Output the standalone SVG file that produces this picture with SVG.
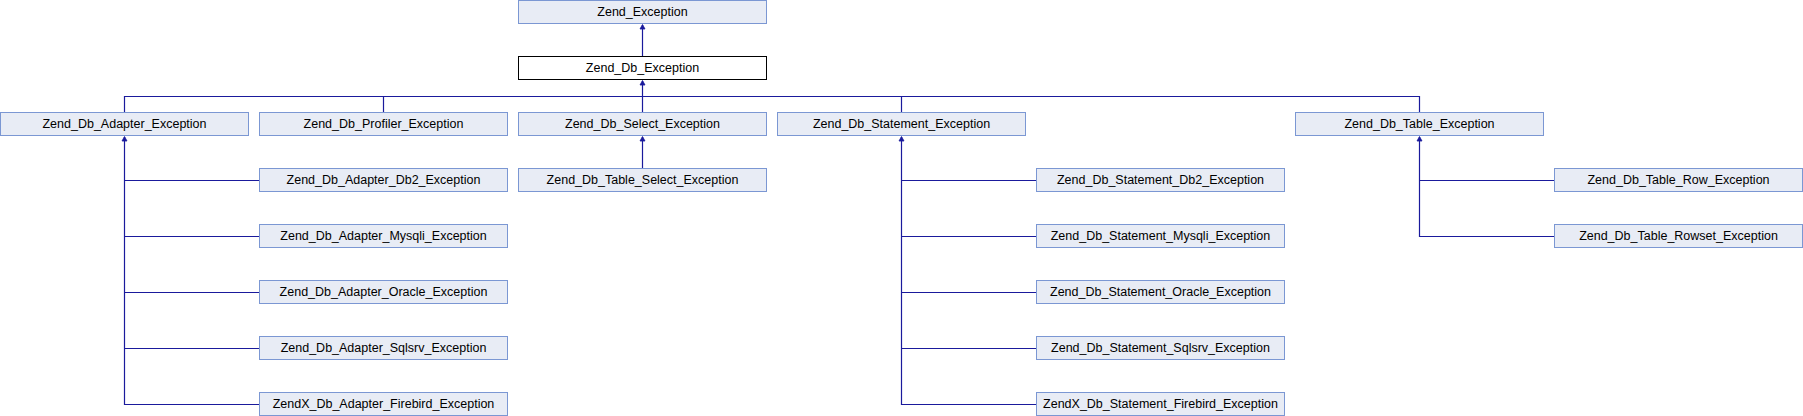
<svg xmlns="http://www.w3.org/2000/svg" width="1803" height="416" viewBox="0 0 1803 416">
<defs>
<style>
.n rect{fill:#e8ecf5;stroke:#7b97d3;stroke-width:1}
.n.cur rect{fill:#ffffff;stroke:#000000}
.n text{font-family:"Liberation Sans",Arial,sans-serif;font-size:12.5px;fill:#000;text-anchor:middle}
.e path{fill:none;stroke:#1a1a9c;stroke-width:1.2}
.e polygon{fill:#1a1a9c;stroke:#1a1a9c;stroke-width:0.8}
</style>
</defs>
<rect width="1803" height="416" fill="#ffffff"/>
<g id="connectors" class="e">
<path d="M642.5,56 V25"/>
<polygon points="642.5,24.5 640,29 645,29"/>
<path d="M642.5,112 V81 M124.5,112 V96.5 H1419.5 V112 M383.5,96.5 V112 M901.5,96.5 V112"/>
<polygon points="642.5,80.5 640,85 645,85"/>
<path d="M642.5,168 V137"/>
<polygon points="642.5,136.5 640,141 645,141"/>
<path d="M124.5,137 V404.5 H259 M124.5,180.5 H259 M124.5,236.5 H259 M124.5,292.5 H259 M124.5,348.5 H259"/>
<polygon points="124.5,136.5 122,141 127,141"/>
<path d="M901.5,137 V404.5 H1036 M901.5,180.5 H1036 M901.5,236.5 H1036 M901.5,292.5 H1036 M901.5,348.5 H1036"/>
<polygon points="901.5,136.5 899,141 904,141"/>
<path d="M1419.5,137 V236.5 H1554 M1419.5,180.5 H1554"/>
<polygon points="1419.5,136.5 1417,141 1422,141"/>
</g>
<g id="Zend_Exception" class="n"><rect x="518.5" y="0.5" width="248" height="23"/><text x="642.5" y="15.5">Zend_Exception</text></g>
<g id="Zend_Db_Exception" class="n cur"><rect x="518.5" y="56.5" width="248" height="23"/><text x="642.5" y="71.5">Zend_Db_Exception</text></g>
<g id="Zend_Db_Adapter_Exception" class="n"><rect x="0.5" y="112.5" width="248" height="23"/><text x="124.5" y="127.5">Zend_Db_Adapter_Exception</text></g>
<g id="Zend_Db_Profiler_Exception" class="n"><rect x="259.5" y="112.5" width="248" height="23"/><text x="383.5" y="127.5">Zend_Db_Profiler_Exception</text></g>
<g id="Zend_Db_Select_Exception" class="n"><rect x="518.5" y="112.5" width="248" height="23"/><text x="642.5" y="127.5">Zend_Db_Select_Exception</text></g>
<g id="Zend_Db_Statement_Exception" class="n"><rect x="777.5" y="112.5" width="248" height="23"/><text x="901.5" y="127.5">Zend_Db_Statement_Exception</text></g>
<g id="Zend_Db_Table_Exception" class="n"><rect x="1295.5" y="112.5" width="248" height="23"/><text x="1419.5" y="127.5">Zend_Db_Table_Exception</text></g>
<g id="Zend_Db_Table_Select_Exception" class="n"><rect x="518.5" y="168.5" width="248" height="23"/><text x="642.5" y="183.5">Zend_Db_Table_Select_Exception</text></g>
<g id="Zend_Db_Adapter_Db2_Exception" class="n"><rect x="259.5" y="168.5" width="248" height="23"/><text x="383.5" y="183.5">Zend_Db_Adapter_Db2_Exception</text></g>
<g id="Zend_Db_Adapter_Mysqli_Exception" class="n"><rect x="259.5" y="224.5" width="248" height="23"/><text x="383.5" y="239.5">Zend_Db_Adapter_Mysqli_Exception</text></g>
<g id="Zend_Db_Adapter_Oracle_Exception" class="n"><rect x="259.5" y="280.5" width="248" height="23"/><text x="383.5" y="295.5">Zend_Db_Adapter_Oracle_Exception</text></g>
<g id="Zend_Db_Adapter_Sqlsrv_Exception" class="n"><rect x="259.5" y="336.5" width="248" height="23"/><text x="383.5" y="351.5">Zend_Db_Adapter_Sqlsrv_Exception</text></g>
<g id="ZendX_Db_Adapter_Firebird_Exception" class="n"><rect x="259.5" y="392.5" width="248" height="23"/><text x="383.5" y="407.5">ZendX_Db_Adapter_Firebird_Exception</text></g>
<g id="Zend_Db_Statement_Db2_Exception" class="n"><rect x="1036.5" y="168.5" width="248" height="23"/><text x="1160.5" y="183.5">Zend_Db_Statement_Db2_Exception</text></g>
<g id="Zend_Db_Statement_Mysqli_Exception" class="n"><rect x="1036.5" y="224.5" width="248" height="23"/><text x="1160.5" y="239.5">Zend_Db_Statement_Mysqli_Exception</text></g>
<g id="Zend_Db_Statement_Oracle_Exception" class="n"><rect x="1036.5" y="280.5" width="248" height="23"/><text x="1160.5" y="295.5">Zend_Db_Statement_Oracle_Exception</text></g>
<g id="Zend_Db_Statement_Sqlsrv_Exception" class="n"><rect x="1036.5" y="336.5" width="248" height="23"/><text x="1160.5" y="351.5">Zend_Db_Statement_Sqlsrv_Exception</text></g>
<g id="ZendX_Db_Statement_Firebird_Exception" class="n"><rect x="1036.5" y="392.5" width="248" height="23"/><text x="1160.5" y="407.5">ZendX_Db_Statement_Firebird_Exception</text></g>
<g id="Zend_Db_Table_Row_Exception" class="n"><rect x="1554.5" y="168.5" width="248" height="23"/><text x="1678.5" y="183.5">Zend_Db_Table_Row_Exception</text></g>
<g id="Zend_Db_Table_Rowset_Exception" class="n"><rect x="1554.5" y="224.5" width="248" height="23"/><text x="1678.5" y="239.5">Zend_Db_Table_Rowset_Exception</text></g>
</svg>
